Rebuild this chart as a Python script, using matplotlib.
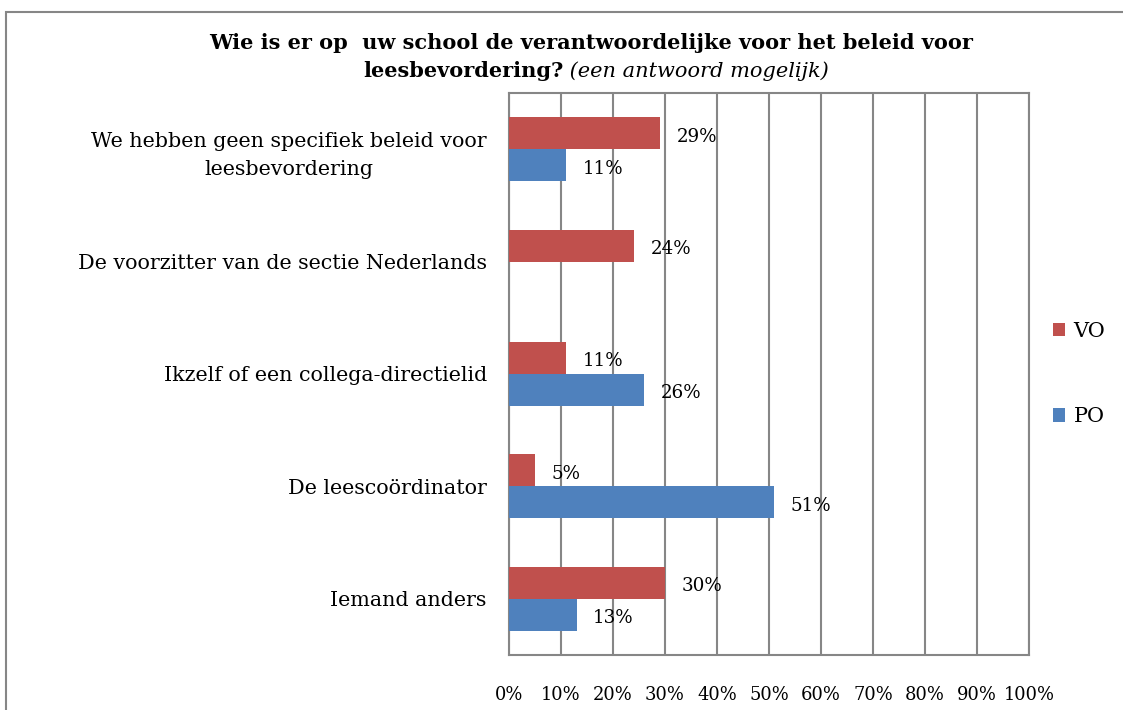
import matplotlib
matplotlib.use("Agg")
import matplotlib.pyplot as plt
from matplotlib.patches import Rectangle
import numpy as np

categories = ["We hebben geen specifiek beleid voor\nleesbevordering",
              "De voorzitter van de sectie Nederlands",
              "Ikzelf of een collega-directielid",
              "De leescoördinator",
              "Iemand anders"]
vo = [29, 24, 11, 5, 30]
po = [11, None, 26, 51, 13]
xticks = list(range(0, 101, 10))
xticklabels = [f"{t}%" for t in xticks]

RED = "#C0504D"
BLUE = "#4F81BD"
GRID = "#868686"
FONT = "DejaVu Serif"
plt.rcParams['font.family'] = [FONT]

W, H = 1123, 710
fig = plt.figure(figsize=(W/100, H/100), dpi=100)
fig.patches.append(Rectangle((6/W, -0.1), 1.2, 1 - 12/H + 0.1, transform=fig.transFigure,
                             fill=False, edgecolor=GRID, linewidth=1.5))

left, right, top, bottom = 509, 1029, 93, 655
ax = fig.add_axes([left/W, 1 - bottom/H, (right-left)/W, (bottom-top)/H])

n = len(categories)
y = np.arange(n)
h = 0.285
ax.barh(y - h/2, vo, height=h, color=RED, zorder=3, label="VO")
po_vals = [v if v is not None else 0 for v in po]
ax.barh(y + h/2, po_vals, height=h, color=BLUE, zorder=3, label="PO")

lab_fs = 13.2
for i, v in enumerate(vo):
    ax.annotate(f"{v}%", (v, i - h/2), xytext=(12, -2.5), textcoords="offset points",
                va="center", ha="left", fontsize=lab_fs)
for i, v in enumerate(po):
    if v is not None:
        ax.annotate(f"{v}%", (v, i + h/2), xytext=(12, -2.5), textcoords="offset points",
                    va="center", ha="left", fontsize=lab_fs)

ax.set_xlim(0, 100)
ax.set_ylim(n - 0.5, -0.5)
ax.set_xticks(xticks)
ax.set_xticklabels(xticklabels, fontsize=12.9)
ax.set_yticks(y)
ax.set_yticklabels(categories, fontsize=14.9, multialignment="center", linespacing=1.6)
ax.tick_params(axis="both", length=0)
ax.tick_params(axis="x", pad=22)
ax.tick_params(axis="y", pad=16)
ax.xaxis.grid(True, color=GRID, linewidth=1.5, zorder=0)
for s in ax.spines.values():
    s.set_color(GRID)
    s.set_linewidth(1.5)

# legend
handles, labels = ax.get_legend_handles_labels()
leg = fig.legend(handles, labels, loc="center left", bbox_to_anchor=(1034/W, 1 - 374/H),
                 frameon=False, fontsize=15, handlelength=0.6, handleheight=0.6,
                 labelspacing=3.2, handletextpad=0.4)

# title
TFS = 15
fig.text(591/W, 1 - 43/H, "Wie is er op  uw school de verantwoordelijke voor het beleid voor",
         ha="center", va="center", fontsize=TFS, fontweight="bold")
t1 = fig.text(0, 1 - 71/H, "leesbevordering?", ha="left", va="center",
              fontsize=TFS, fontweight="bold")
t2 = fig.text(0, 1 - 71/H, " (een antwoord mogelijk)", ha="left", va="center",
              fontsize=TFS, fontstyle="italic")
fig.canvas.draw()
r = fig.canvas.get_renderer()
w1 = t1.get_window_extent(r).width
w2 = t2.get_window_extent(r).width
x0 = 596 - (w1 + w2) / 2
t1.set_x(x0 / W)
t2.set_x((x0 + w1) / W)

fig.savefig("out.png", dpi=100)
